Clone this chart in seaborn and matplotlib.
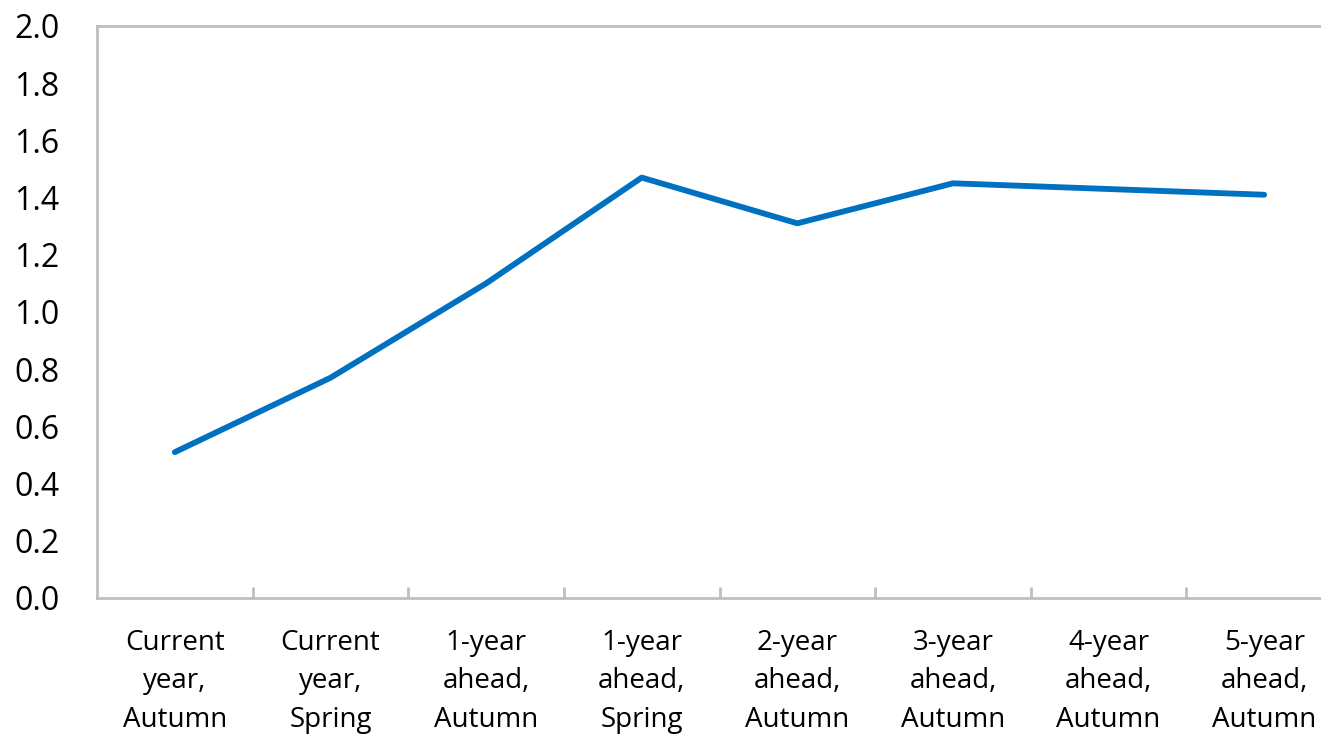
import numpy as np
import pandas as pd
import matplotlib
matplotlib.use("Agg")
import matplotlib.pyplot as plt
import seaborn as sns
from matplotlib.ticker import FixedLocator

# data
categories = ["Current\nyear,\nAutumn", "Current\nyear,\nSpring", "1-year\nahead,\nAutumn",
              "1-year\nahead,\nSpring", "2-year\nahead,\nAutumn", "3-year\nahead,\nAutumn",
              "4-year\nahead,\nAutumn", "5-year\nahead,\nAutumn"]
values = [0.51, 0.77, 1.10, 1.47, 1.31, 1.45, 1.43, 1.41]
yticks = [0.0, 0.2, 0.4, 0.6, 0.8, 1.0, 1.2, 1.4, 1.6, 1.8, 2.0]

df = pd.DataFrame({"pos": np.arange(len(categories)), "value": values})

sns.set_theme(style="white")
plt.rcParams["font.family"] = ["Open Sans", "DejaVu Sans"]

fig = plt.figure(figsize=(13.21, 7.37), dpi=100)
ax = fig.add_axes([97 / 1321, 1 - 598 / 737, 1245 / 1321, 572 / 737])

sns.lineplot(data=df, x="pos", y="value", ax=ax, color="#0070c0", linewidth=4.2)

ax.set_xlim(-0.5, len(categories) - 0.5)
ax.set_ylim(0, 2.0)
ax.set_yticks(yticks)
ax.set_yticklabels([f"{t:.1f}" for t in yticks])
ax.set_xticks(range(len(categories)))
ax.set_xticklabels(categories, linespacing=1.52)
ax.xaxis.set_minor_locator(FixedLocator(np.arange(0.5, len(categories) - 1, 1.0)))

ax.tick_params(axis="x", which="major", bottom=False, length=0, pad=22, labelsize=20, colors="black")
ax.tick_params(axis="x", which="minor", bottom=True, length=8, width=2, direction="in", color="#bfbfbf")
ax.tick_params(axis="y", left=False, length=0, pad=27, labelsize=23, colors="black")

for s in ["left", "bottom", "top"]:
    ax.spines[s].set_color("#bfbfbf")
    ax.spines[s].set_linewidth(2)
ax.spines["right"].set_visible(False)

ax.set_xlabel("")
ax.set_ylabel("")
ax.grid(False)

fig.savefig("out.png", dpi=100)
